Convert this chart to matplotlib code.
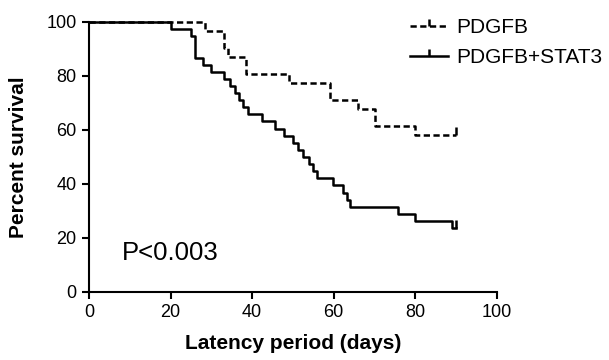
import matplotlib
matplotlib.use("Agg")
import matplotlib.pyplot as plt
from matplotlib.lines import Line2D
from matplotlib.markers import TICKUP

plt.rcParams['font.family'] = ['Liberation Sans', 'DejaVu Sans']
plt.rcParams['lines.scale_dashes'] = False

# PDGFB (dashed)
t_pdgfb = [0, 28.5, 33, 34, 38.5, 49, 59, 66, 70, 80, 90]
s_pdgfb = [100, 96.8, 90.3, 87.1, 80.6, 77.4, 71.0, 67.7, 61.3, 58.1, 58.1]

# PDGFB+STAT3 (solid)
t_stat3 = [0, 20, 25, 26, 28, 30, 33, 34.5, 35.8, 36.8, 37.8, 39, 42.5, 45.5,
           47.7, 50, 51.3, 52.5, 54, 55, 56, 59.7, 62.2, 63.2, 64, 75.8, 80, 89, 90]
s_stat3 = [100, 97.4, 94.7, 86.8, 84.2, 81.6, 78.9, 76.3, 73.7, 71.1, 68.4, 65.8, 63.2, 60.5,
           57.9, 55.3, 52.6, 50.0, 47.4, 44.7, 42.1, 39.5, 36.8, 34.2, 31.6, 28.9, 26.3, 23.7, 23.7]

labels = ["PDGFB", "PDGFB+STAT3"]
x_ticks = [0, 20, 40, 60, 80, 100]
y_ticks = [0, 20, 40, 60, 80, 100]
p_text = "P<0.003"

fig = plt.figure(figsize=(6.09, 3.60), dpi=100)
ax = fig.add_axes([0.146, 0.189, 0.670, 0.750])

lw = 1.8
dash = [4.5, 2.5]
ax.step(t_stat3, s_stat3, where='post', color='black', lw=lw, clip_on=False)
ax.step(t_pdgfb, s_pdgfb, where='post', color='black', lw=lw, dashes=dash, clip_on=False)
# censor marks at end
ax.plot([t_pdgfb[-1]], [s_pdgfb[-1]], marker=TICKUP, ms=6, mew=lw, color='black', ls='none', clip_on=False)
ax.plot([t_stat3[-1]], [s_stat3[-1]], marker=TICKUP, ms=6, mew=lw, color='black', ls='none', clip_on=False)

ax.set_xlim(0, 100)
ax.set_ylim(0, 100)
ax.set_xticks(x_ticks)
ax.set_yticks(y_ticks)
ax.tick_params(direction='out', length=5, width=1.5, labelsize=13, pad=4)
for s in ['top', 'right']:
    ax.spines[s].set_visible(False)
for s in ['left', 'bottom']:
    ax.spines[s].set_linewidth(1.5)

ax.set_xlabel("Latency period (days)", fontsize=15, fontweight='bold', labelpad=9)
ax.set_ylabel("Percent survival", fontsize=15, fontweight='bold', labelpad=13)

ax.text(8, 14.5, p_text, fontsize=18.5, va='center', ha='left')

handles = [
    Line2D([], [], color='black', lw=lw, dashes=dash, marker=TICKUP, ms=5, mew=lw),
    Line2D([], [], color='black', lw=lw, marker=TICKUP, ms=5, mew=lw),
]
leg = fig.legend(handles, labels, loc='upper left', bbox_to_anchor=(0.66, 0.972),
                 frameon=False, fontsize=15, handlelength=1.8, handletextpad=0.4,
                 labelspacing=0.5, borderaxespad=0)

fig.savefig("out.png", dpi=100)
